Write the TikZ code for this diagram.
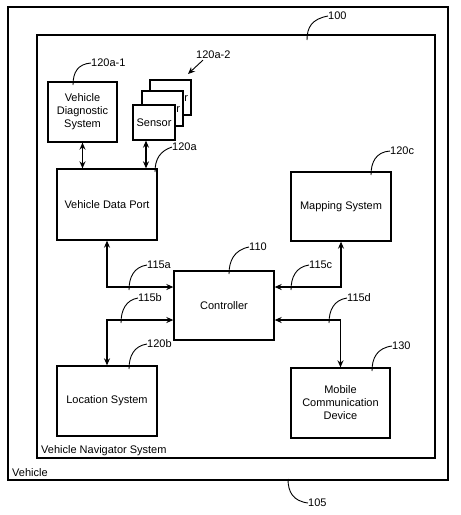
\documentclass[tikz,border=0pt]{standalone}
\usepackage{fontspec}
\setmainfont{Liberation Sans}
\usetikzlibrary{arrows.meta,calc}
\begin{document}
\begin{tikzpicture}[x=1pt,y=-1pt,
 frame/.style={draw,line width=1.2pt,inner sep=0pt},
 box/.style={draw,line width=1.3pt,fill=white,inner sep=0pt,align=center,font=\fontsize{11}{13}\selectfont},
 lbl/.style={anchor=west,inner sep=0pt,font=\fontsize{11}{13}\selectfont},
 lead/.style={line width=0.9pt},
 tip/.style={Stealth[length=7pt,width=6pt]},
 conn/.style={line width=1.3pt,{Stealth[length=7pt,width=6pt]}-{Stealth[length=7pt,width=6pt]}}]
\useasboundingbox (0,0) rectangle (461,515);
% frames
\node[frame, minimum width=440pt, minimum height=473pt] (vehicle) at (228,243.5) {};
\node[frame, minimum width=398pt, minimum height=423pt] (nav) at (236,246.5) {};
\node[lbl] (tveh) at (12,473) {Vehicle};
\node[lbl] (tnav) at (41,451) {Vehicle Navigator System};
% boxes
\node[box, minimum width=69pt, minimum height=60pt] (vds) at (82.5,112) {Vehicle\\Diagnostic\\System};
\node[box, minimum width=41pt, minimum height=35pt] (sback) at (170.5,97.5) {Sensor};
\node[box, minimum width=41pt, minimum height=35pt] (smid) at (162.5,108.5) {Sensor};
\node[box, minimum width=42pt, minimum height=35pt] (sfront) at (154,122.5) {Sensor};
\node[box, minimum width=100pt, minimum height=71pt] (vdp) at (107,204.5) {Vehicle Data Port};
\node[box, minimum width=100pt, minimum height=69pt] (map) at (341,206.5) {Mapping System};
\node[box, minimum width=100pt, minimum height=69pt] (ctrl) at (224,305.5) {Controller};
\node[box, minimum width=100pt, minimum height=70pt] (loc) at (107,401) {Location System};
\node[box, minimum width=99pt, minimum height=70pt] (mob) at (340.5,403) {Mobile\\Communication\\Device};
% helper coordinates
\coordinate (ya) at (0,287);
\coordinate (yb) at (0,320);
\coordinate (xs) at (146,0);
% connectors
\draw[conn] (vds.south) -- (vds.south |- vdp.north);
\draw[conn] (sfront.south -| xs) -- (vdp.north -| xs);
\draw[conn] (vdp.south) |- (ctrl.west |- ya);
\draw[conn] (loc.north) |- (ctrl.west |- yb);
\draw[conn] (map.south) |- (ctrl.east |- ya);
\draw[conn] (mob.north) |- (ctrl.east |- yb);
% reference labels
\node[lbl] (l100) at (328,16) {100};
\draw[lead] (307,40) .. controls (307,27) and (312,19) .. (l100.west);
\node[lbl] (l105) at (308,503) {105};
\draw[lead] (288,479) .. controls (288,492) and (293,501) .. (l105.west);
\node[lbl] (l120a1) at (91,63) {120a-1};
\draw[lead] (73,85) .. controls (73,72) and (78,64) .. (l120a1.west);
\node[lbl] (l120a2) at (196,55) {120a-2};
\draw[lead,-{Stealth[length=7pt,width=6pt]}] (l120a2.south west) ++(7,1) -- (188,74);
\node[lbl] (l120a) at (172,147) {120a};
\draw[lead] (155,172) .. controls (155,159) and (160,151) .. (l120a.west);
\node[lbl] (l120c) at (390,151) {120c};
\draw[lead] (371,175) .. controls (371,162) and (376,152) .. (l120c.west);
\node[lbl] (l110) at (249,247) {110};
\draw[lead] (229,274) .. controls (229,261) and (234,250) .. (l110.west);
\node[lbl] (l115a) at (147,265) {115a};
\draw[lead] (129,290) .. controls (129,277) and (134,267) .. (l115a.west);
\node[lbl] (l115b) at (138,298) {115b};
\draw[lead] (121,323) .. controls (121,310) and (126,300) .. (l115b.west);
\node[lbl] (l115c) at (309,265) {115c};
\draw[lead] (291,290) .. controls (291,277) and (296,267) .. (l115c.west);
\node[lbl] (l115d) at (347,298) {115d};
\draw[lead] (329,323) .. controls (329,310) and (334,300) .. (l115d.west);
\node[lbl] (l120b) at (147,344) {120b};
\draw[lead] (129,369) .. controls (129,356) and (134,346) .. (l120b.west);
\node[lbl] (l130) at (392,346) {130};
\draw[lead] (372,371) .. controls (372,358) and (377,348) .. (l130.west);
\end{tikzpicture}
\end{document}
